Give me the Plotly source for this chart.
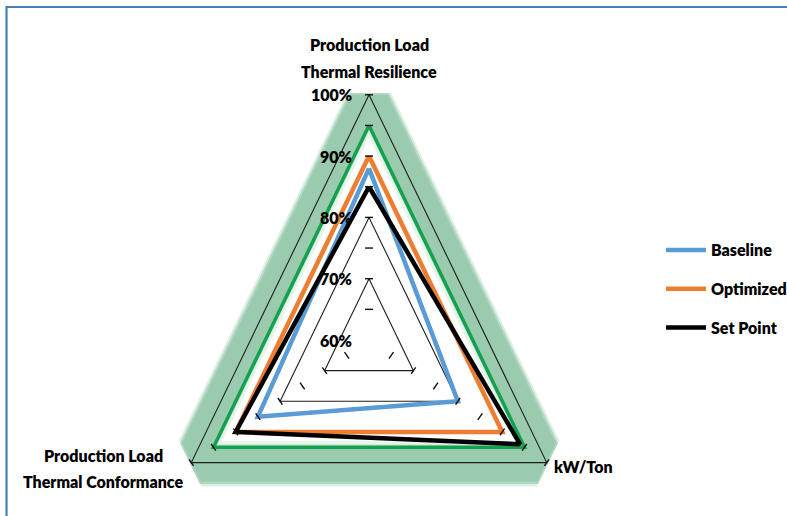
import math
import plotly.graph_objects as go

# ---- data -------------------------------------------------------------
categories = ["Production Load<br>Thermal Resilience", "kW/Ton",
              "Production Load<br>Thermal Conformance"]
baseline = [88, 80, 85]
optimized = [90, 90, 90]
set_point = [85, 94, 90]
upper_band = [95, 95, 95]

tick_values = [60, 70, 80, 90, 100]
tick_labels = ["60%", "70%", "80%", "90%", "100%"]
minor_ticks = [65, 70, 75, 80, 85, 90, 95, 100]
grid_levels = [70, 80, 90, 100]
R_MIN = 60

# ---- geometry of the radar frame ---------------------------------------
W, H = 787, 516
CX, CY = 369.0, 340.0      # centre of the radar in pixels
SX, SY = 5.13, 6.13        # pixels per percentage point (x, y)
ANGLES = [90, -30, 210]    # category directions, clockwise from the top

FONT = "Lato, Roboto, sans-serif"
TXT = dict(family=FONT, size=16, color="#000000", weight=800)


def polar_xy(v, ang):
    r = v - R_MIN
    a = math.radians(ang)
    return r * math.cos(a), r * math.sin(a)


def closed_loop(values):
    pts = [polar_xy(v, a) for v, a in zip(values, ANGLES)]
    pts.append(pts[0])
    return [p[0] for p in pts], [p[1] for p in pts]


def cut_triangle(level, frac):
    """Triangle at a radial level with its corners trimmed."""
    verts = [polar_xy(level, a) for a in ANGLES]
    xs, ys = [], []
    n = len(verts)
    for i in range(n):
        px, py = verts[i]
        qx, qy = verts[i - 1]
        nx, ny = verts[(i + 1) % n]
        xs += [px + frac * (qx - px), px + frac * (nx - px)]
        ys += [py + frac * (qy - py), py + frac * (ny - py)]
    xs.append(xs[0])
    ys.append(ys[0])
    return xs, ys


fig = go.Figure()

# soft green glow behind the upper band
for level, frac, colour in [(107.8, 0.105, "rgba(180,218,196,0.45)"),
                            (107.0, 0.095, "rgba(160,206,180,0.75)"),
                            (106.2, 0.09, "#9acbae"),
                            (95.0, 0.0, "#cde9d7"),
                            (94.0, 0.0, "#e6f4eb"),
                            (93.0, 0.0, "#ffffff")]:
    gx, gy = cut_triangle(level, frac)
    fig.add_trace(go.Scatter(x=gx, y=gy, mode="lines", fill="toself",
                             fillcolor=colour, line=dict(width=0),
                             hoverinfo="skip", showlegend=False))

# triangular gridlines
for lvl in grid_levels:
    gx, gy = closed_loop([lvl] * 3)
    fig.add_trace(go.Scatter(x=gx, y=gy, mode="lines",
                             line=dict(color="#1e1e1e", width=1.1),
                             hoverinfo="skip", showlegend=False))

# series
gx, gy = closed_loop(upper_band)
fig.add_trace(go.Scatter(x=gx, y=gy, mode="lines", name="Upper Band",
                         line=dict(color="#14a04f", width=3.5),
                         showlegend=False))

for name, vals, colour in [("Baseline", baseline, "#5b9bd5"),
                           ("Optimized", optimized, "#ed7d31"),
                           ("Set Point", set_point, "#000000")]:
    sx, sy = closed_loop(vals)
    fig.add_trace(go.Scatter(x=sx, y=sy, mode="lines", name=name,
                             line=dict(color=colour, width=4.5),
                             legendgroup=name))

# tick marks across each axis
tx, ty = [], []
half = 4.0
for ang in ANGLES:
    a = math.radians(ang)
    ux, uy = SX * math.cos(a), -SY * math.sin(a)
    norm = math.hypot(ux, uy)
    ux, uy = ux / norm, uy / norm
    px_, py_ = -uy, ux
    for v in minor_ticks:
        x0, y0 = polar_xy(v, ang)
        dx, dy = half * px_ / SX, -half * py_ / SY
        tx += [x0 - dx, x0 + dx, None]
        ty += [y0 - dy, y0 + dy, None]
fig.add_trace(go.Scatter(x=tx, y=ty, mode="lines",
                         line=dict(color="#111111", width=1.4),
                         hoverinfo="skip", showlegend=False))

# percentage labels along the vertical axis
for v, lab in zip(tick_values, tick_labels):
    fig.add_annotation(x=-3.0, y=v - R_MIN, text=lab, showarrow=False,
                       xanchor="right", yanchor="middle", font=TXT)

# category labels, one annotation per text line for wider leading
LEAD = 26.5 / SY
top_x, top_y = polar_xy(100, ANGLES[0])
for i, line in enumerate(categories[0].split("<br>")):
    fig.add_annotation(x=top_x, y=top_y + 8.2 - i * LEAD, text=line,
                       showarrow=False, xanchor="center", yanchor="middle",
                       font=TXT)
rx, ry = polar_xy(100, ANGLES[1])
fig.add_annotation(x=rx + 1.0, y=ry - 0.6, text=categories[1],
                   showarrow=False, xanchor="left", yanchor="middle",
                   font=TXT)
lx, ly = polar_xy(100, ANGLES[2])
left_lines = categories[2].split("<br>")
for i, line in enumerate(left_lines):
    fig.add_annotation(x=lx - 17.2, y=ly + 1.2 - i * LEAD, text=line,
                       showarrow=False, xanchor="center", yanchor="middle",
                       font=TXT)

# outer frame
fig.add_shape(type="rect", xref="paper", yref="paper",
              x0=6.5 / W, x1=1.05, y0=-0.05, y1=1 - 7.0 / H,
              line=dict(color="#4a7ebb", width=2.2))

fig.update_xaxes(range=[-CX / SX, (W - CX) / SX], visible=False,
                 fixedrange=True)
fig.update_yaxes(range=[(CY - H) / SY, CY / SY], visible=False,
                 fixedrange=True)

fig.update_layout(
    width=W, height=H,
    margin=dict(l=0, r=0, t=0, b=0, autoexpand=False),
    paper_bgcolor="#ffffff", plot_bgcolor="#ffffff",
    showlegend=True,
    legend=dict(x=661 / W, y=1 - 233 / H, xanchor="left", yanchor="top",
                font=TXT, itemwidth=40, tracegroupgap=15,
                bgcolor="rgba(0,0,0,0)"),
)

fig.write_html("out.html")
